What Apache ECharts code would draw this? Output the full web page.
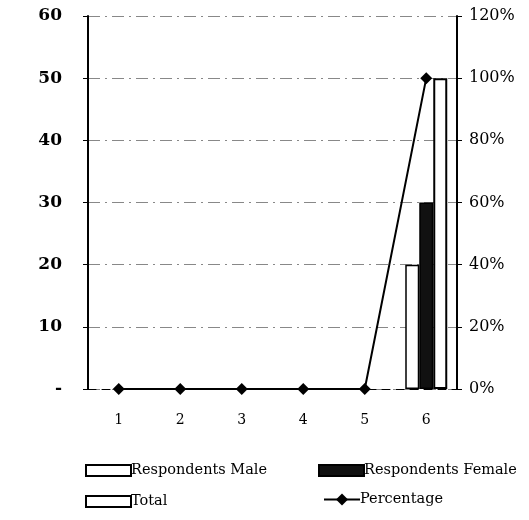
<!DOCTYPE html>
<html>
<head>
<meta charset="utf-8">
<script src="https://cdn.jsdelivr.net/npm/echarts@6/dist/echarts.min.js"></script>
<style>
  html, body { margin: 0; padding: 0; background: #fff; }
  #chart { width: 529px; height: 520px; }
</style>
</head>
<body>
<div id="chart"></div>
<script>
// Categories and series values
const categories = ['1', '2', '3', '4', '5', '6'];
const maleValues = [0, 0, 0, 0, 0, 20];
const femaleValues = [0, 0, 0, 0, 0, 30];
const totalValues = [0, 0, 0, 0, 0, 50];
const percentageValues = [0, 0, 0, 0, 0, 1.0];
const leftTicks = [0, 10, 20, 30, 40, 50, 60];
const rightTicks = [0, 0.2, 0.4, 0.6, 0.8, 1.0, 1.2];

const FONT = 'DejaVu Serif';

const chart = echarts.init(document.getElementById('chart'), null, { renderer: 'canvas' });

// Zero-height bars get no outline so they don't draw over the baseline
function barData(values) {
  return values.map(v => (v === 0 ? { value: v, itemStyle: { borderWidth: 0, opacity: 0 } } : v));
}

function legendItem(name, left, top, icon, w, h) {
  const item = { name: name };
  if (icon) item.icon = icon;
  return {
    show: true,
    left: left,
    top: top,
    orient: 'horizontal',
    data: [item],
    itemWidth: w,
    itemHeight: h,
    itemGap: 2,
    textStyle: { fontFamily: FONT, fontSize: 14.5, color: '#000', padding: [0, 0, 0, -5] }
  };
}

const option = {
  animation: false,
  backgroundColor: '#fff',
  grid: { left: 88, right: 72, top: 16, bottom: 131 },
  legend: [
    legendItem('Respondents Male', 80, 458, 'rect', 45, 11),
    legendItem('Respondents Female', 313, 458, 'rect', 45, 11),
    legendItem('Total', 80, 489, 'rect', 45, 11),
    legendItem('Percentage', 318, 487, null, 36, 15)
  ],
  xAxis: {
    type: 'category',
    data: categories,
    axisLine: { show: true, lineStyle: { color: '#000', width: 1, type: [8, 6] } },
    axisTick: { show: false },
    axisLabel: { fontFamily: FONT, fontSize: 14, color: '#000', margin: 24 }
  },
  yAxis: [
    {
      type: 'value',
      min: leftTicks[0],
      max: leftTicks[leftTicks.length - 1],
      interval: 10,
      axisLine: { show: true, lineStyle: { color: '#000', width: 2 } },
      axisTick: { show: true, length: 5, lineStyle: { color: '#000' } },
      axisLabel: {
        fontFamily: FONT, fontSize: 17, fontWeight: 'bold', color: '#000', margin: 26,
        formatter: v => (v === 0 ? '-' : String(v))
      },
      splitLine: { show: true, lineStyle: { color: '#888', width: 1, type: [12, 5, 2, 5] } }
    },
    {
      type: 'value',
      min: rightTicks[0],
      max: rightTicks[rightTicks.length - 1],
      interval: 0.2,
      position: 'right',
      axisLine: { show: true, lineStyle: { color: '#000', width: 2 } },
      axisTick: { show: true, length: 5, lineStyle: { color: '#000' } },
      axisLabel: {
        fontFamily: FONT, fontSize: 16, color: '#000', margin: 12,
        formatter: v => Math.round(v * 100) + '%'
      },
      splitLine: { show: false }
    }
  ],
  series: [
    {
      name: 'Respondents Male',
      type: 'bar',
      data: barData(maleValues),
      barWidth: 14,
      barGap: '0%',
      itemStyle: { color: '#fff', borderColor: '#000', borderWidth: 1.5 }
    },
    {
      name: 'Respondents Female',
      type: 'bar',
      data: barData(femaleValues),
      barWidth: 14,
      barGap: '0%',
      itemStyle: { color: '#111', borderColor: '#000', borderWidth: 1.5 }
    },
    {
      name: 'Total',
      type: 'bar',
      data: barData(totalValues),
      barWidth: 14,
      barGap: '0%',
      itemStyle: { color: '#fff', borderColor: '#000', borderWidth: 2 }
    },
    {
      name: 'Percentage',
      type: 'line',
      yAxisIndex: 1,
      data: percentageValues,
      symbol: 'diamond',
      symbolSize: 12,
      lineStyle: { color: '#000', width: 2 },
      itemStyle: { color: '#000' },
      z: 5
    }
  ]
};

chart.setOption(option);
</script>
</body>
</html>
